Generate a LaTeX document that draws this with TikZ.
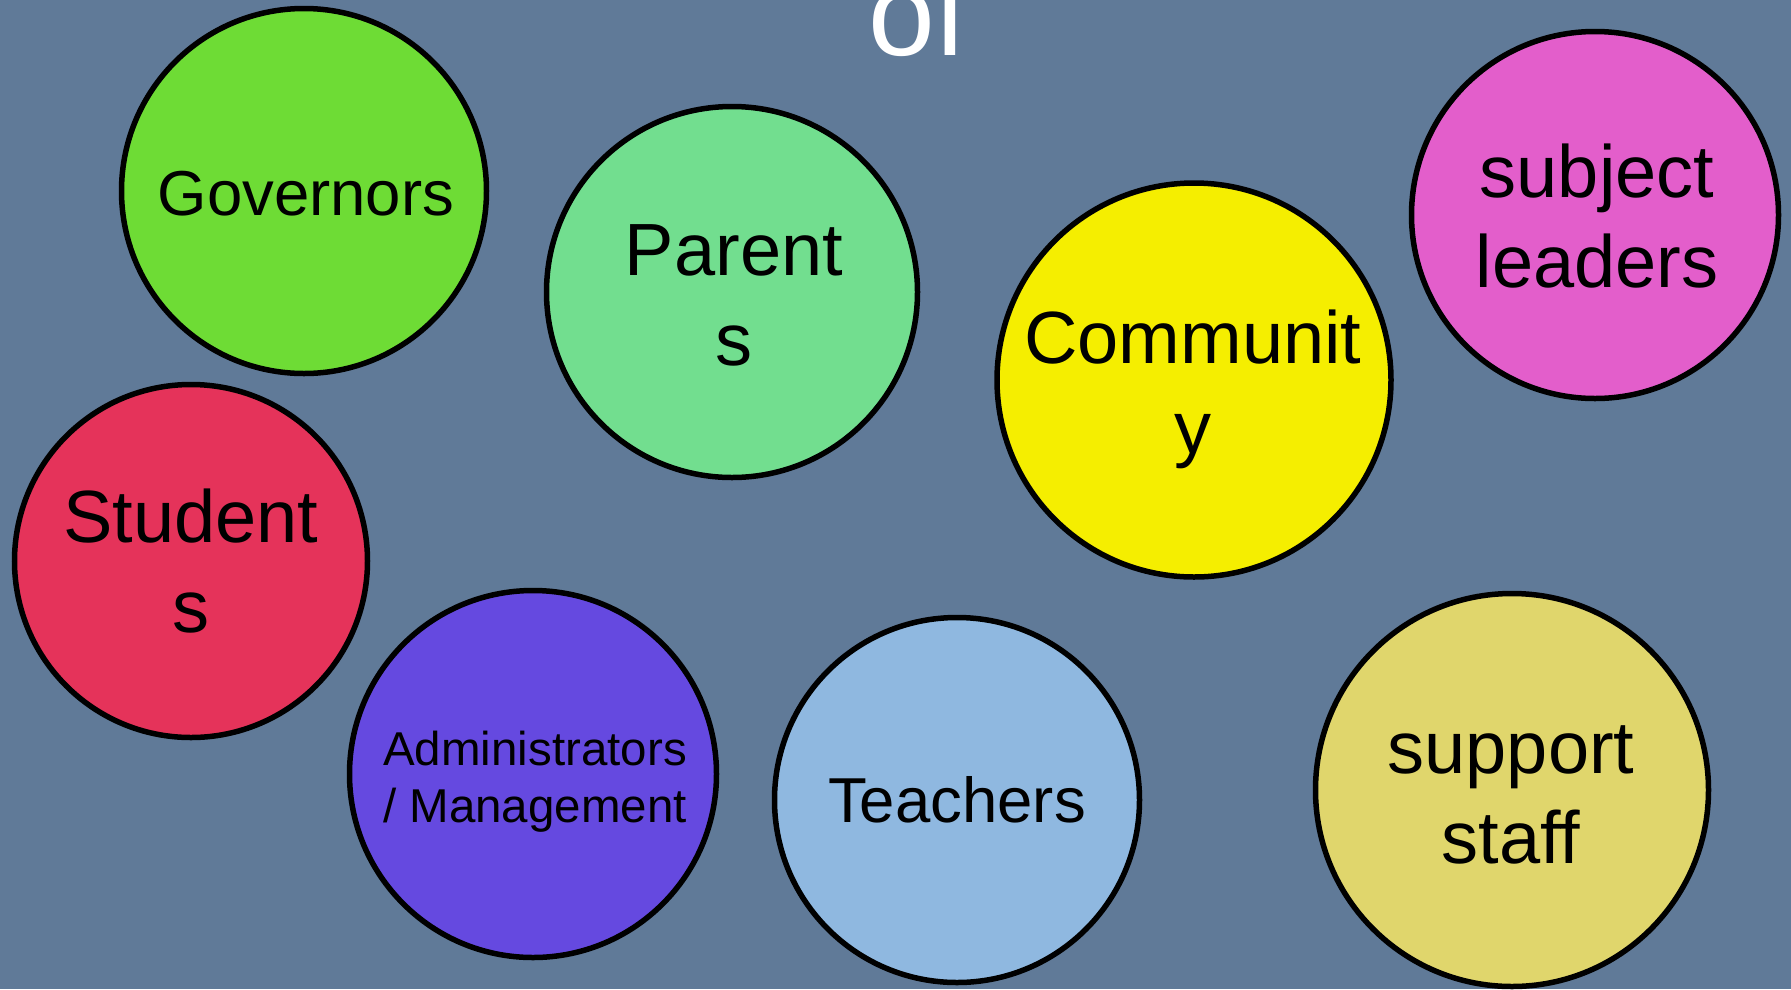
\documentclass[tikz,border=0pt]{standalone}
\usepackage{fontspec}
\setmainfont{Liberation Sans}
\definecolor{bgblue}{RGB}{96,122,152}
\definecolor{cgov}{RGB}{110,220,53}
\definecolor{cpar}{RGB}{114,222,143}
\definecolor{ccom}{RGB}{245,238,0}
\definecolor{csub}{RGB}{227,94,203}
\definecolor{cstu}{RGB}{229,51,90}
\definecolor{cadm}{RGB}{101,73,224}
\definecolor{ctea}{RGB}{143,184,224}
\definecolor{csup}{RGB}{224,214,108}
\begin{document}
\begin{tikzpicture}[x=1pt,y=-1pt,
  bubble/.style={circle, draw=black, line width=5.5pt, inner sep=0pt},
  lbl/.style={anchor=base, align=center, inner sep=0pt, text=black},
  big/.style={font=\fontsize{74}{90}\selectfont},
  mid/.style={font=\fontsize{63.5}{76}\selectfont},
  small/.style={font=\fontsize{47.5}{57}\selectfont}]
\fill[bgblue] (0,0) rectangle (1791,989);
\useasboundingbox (0,0) rectangle (1791,989);
% title fragment
\node[anchor=base west, inner sep=0pt, text=white, font=\fontsize{120}{130}\selectfont] (of) at (868,55) {of};
% circles
\node[bubble, fill=cgov, minimum size=365] (gov) at (304,191) {};
\node[bubble, fill=cpar, minimum size=371] (par) at (732,292) {};
\node[bubble, fill=ccom, minimum size=394] (com) at (1194,380) {};
\node[bubble, fill=csub, minimum size=367] (sub) at (1595,215) {};
\node[bubble, fill=cstu, minimum size=353] (stu) at (191,561) {};
\node[bubble, fill=cadm, minimum size=367] (adm) at (533,774) {};
\node[bubble, fill=ctea, minimum size=365] (tea) at (957,800) {};
\node[bubble, fill=csup, minimum size=393] (sup) at (1512,790) {};
% labels (base anchor = baseline of the last line)
\node[lbl, mid] (govt) at (306,215) {Governors};
\node[lbl, big] (part) at (734,365) {Parent\\s};
\node[lbl, big] (comt) at (1193,453) {Communit\\y};
\node[lbl, big] (subt) at (1597,287) {subject\\leaders};
\node[lbl, big] (stut) at (191,632) {Student\\s};
\node[lbl, small] (admt) at (535,822) {Administrators\\/ Management};
\node[lbl, mid] (teat) at (957,822) {Teachers};
\node[lbl, big] (supt) at (1511,863) {support\\staff};
\end{tikzpicture}
\end{document}
